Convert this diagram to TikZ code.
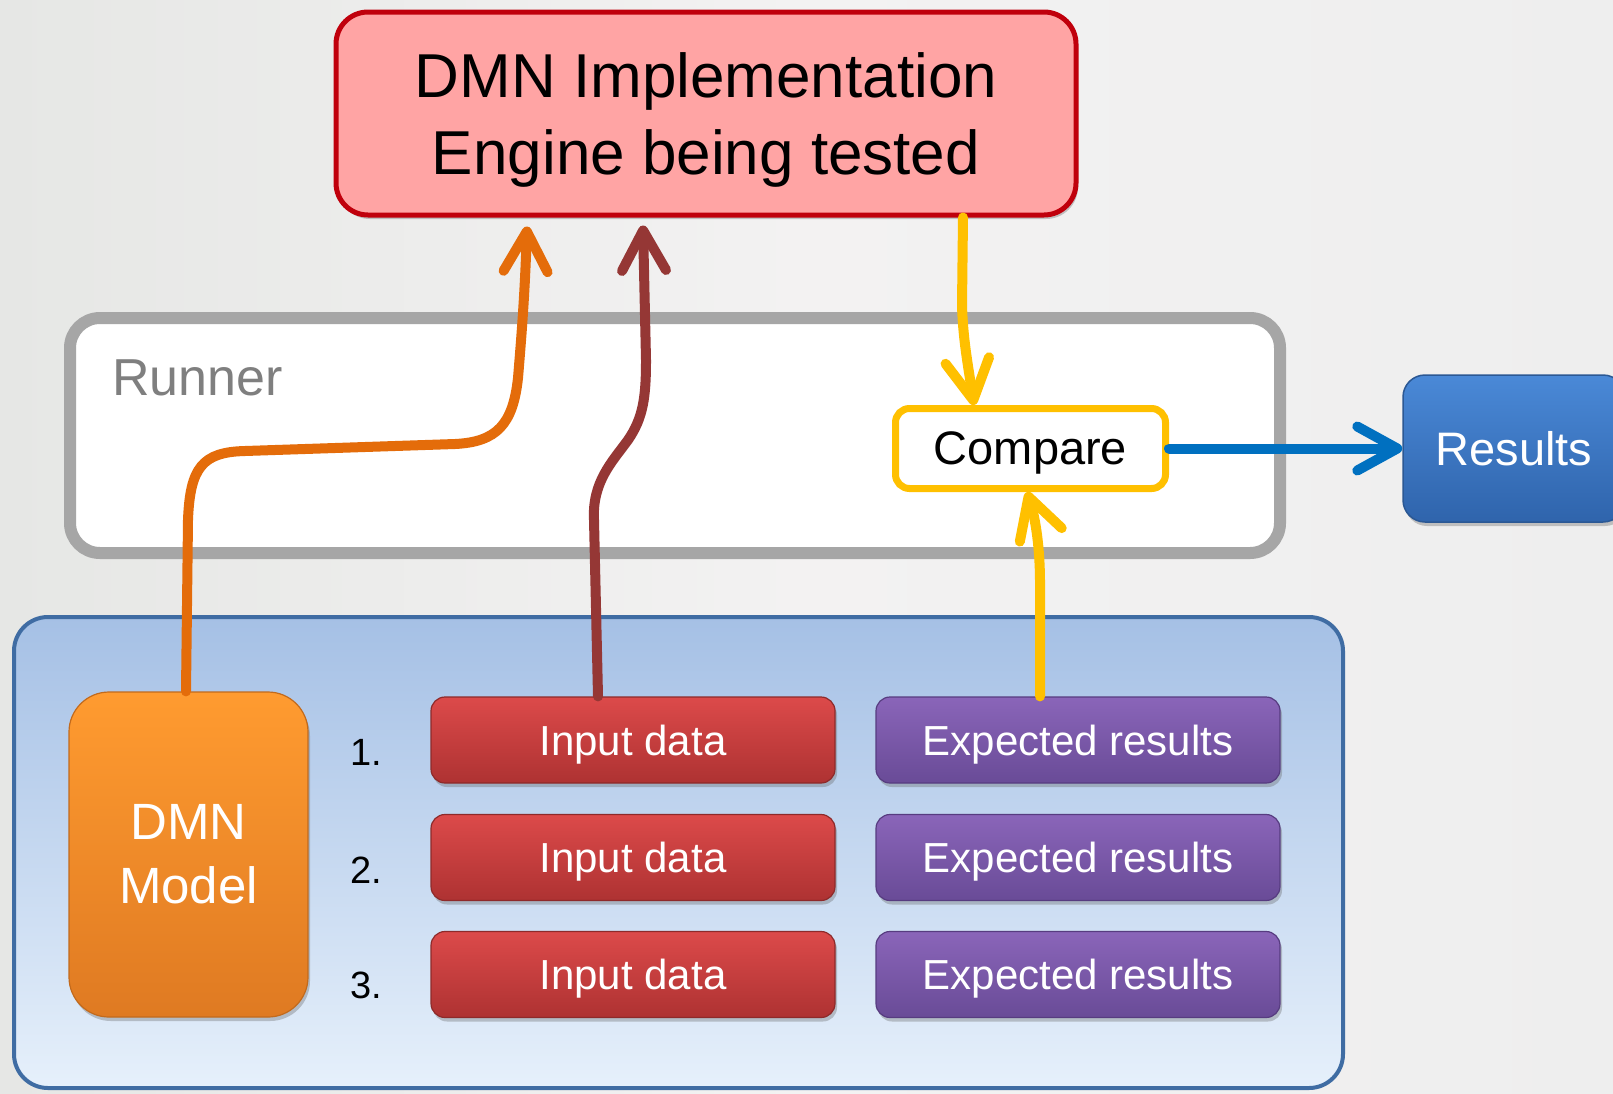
\documentclass[tikz,border=0pt]{standalone}
\usepackage{fontspec}
\setmainfont{Liberation Sans}
\usetikzlibrary{arrows.meta,shadows}
\definecolor{bgA}{HTML}{F3F2F2}
\definecolor{bgB}{HTML}{EEEEEE}
\definecolor{bgC}{HTML}{E6E7E5}
\definecolor{engFill}{HTML}{FFA4A4}
\definecolor{engLine}{HTML}{C0000C}
\definecolor{runLine}{HTML}{A6A6A6}
\definecolor{runText}{HTML}{7F7F7F}
\definecolor{cmpLine}{HTML}{FFC000}
\definecolor{resTop}{HTML}{4A89D7}
\definecolor{resBot}{HTML}{2F64AC}
\definecolor{resLine}{HTML}{2B5894}
\definecolor{panTop}{HTML}{A5C0E5}
\definecolor{panBot}{HTML}{E6F0FB}
\definecolor{panLine}{HTML}{3F6CA3}
\definecolor{modTop}{HTML}{FF9B30}
\definecolor{modBot}{HTML}{DF7A22}
\definecolor{modLine}{HTML}{C26A1C}
\definecolor{inTop}{HTML}{DC4A4A}
\definecolor{inBot}{HTML}{AE3232}
\definecolor{inLine}{HTML}{8E2A2A}
\definecolor{exTop}{HTML}{8A65B9}
\definecolor{exBot}{HTML}{694B97}
\definecolor{exLine}{HTML}{573C80}
\definecolor{arOrange}{HTML}{E46C0A}
\definecolor{arBrown}{HTML}{953735}
\definecolor{arYellow}{HTML}{FFC000}
\definecolor{arBlue}{HTML}{0070C0}
\tikzset{
  box/.style={rectangle, inner sep=0pt, align=center},
  shad/.style={drop shadow={shadow xshift=2pt, shadow yshift=-4pt, opacity=0.35, fill=black!60}},
  rowbox/.style={box, minimum width=404pt, minimum height=86pt, rounded corners=14pt,
     text=white, font=\fontsize{42}{50}\selectfont, line width=1.2pt, shad, text depth=0pt},
  inbox/.style={rowbox, draw=inLine, top color=inTop, bottom color=inBot},
  exbox/.style={rowbox, draw=exLine, top color=exTop, bottom color=exBot},
  numlab/.style={anchor=base, inner sep=0pt, font=\fontsize{38}{44}\selectfont},
  conn/.style={line width=10pt, line cap=round, line join=round,
     -{Straight Barb[length=40pt,width=44pt,round]}}
}
\begin{document}
\begin{tikzpicture}[x=1pt,y=-1pt]
\useasboundingbox (0,0) rectangle (1613,1093);
\clip (0,0) rectangle (1613,1093);
\fill[left color=bgC, right color=bgB, middle color=bgA] (0,0) rectangle (1613,1093);

% runner
\node[box, draw=runLine, fill=white, line width=12pt, rounded corners=30pt,
      minimum width=1210pt, minimum height=235pt] (runner) at (675,435.5) {};
\node[anchor=base west, inner sep=0pt, text=runText, font=\fontsize{52}{60}\selectfont]
      (runlab) at (112,395) {Runner};

% engine
\node[box, draw=engLine, fill=engFill, line width=5pt, rounded corners=32pt,
      minimum width=740pt, minimum height=203pt, shad, text depth=0pt,
      font=\fontsize{62}{77}\selectfont] (engine) at (706,113.5)
      {DMN Implementation\\Engine being tested};

% compare
\node[box, draw=cmpLine, fill=white, line width=7pt, rounded corners=14pt,
      minimum width=270pt, minimum height=80pt, text depth=0pt,
      font=\fontsize{47}{54}\selectfont] (compare) at (1030.5,448.5) {Compare};

% results
\node[box, draw=resLine, line width=1.5pt, top color=resTop, bottom color=resBot,
      rounded corners=22pt, minimum width=222pt, minimum height=147pt, shad,
      text=white, font=\fontsize{47}{54}\selectfont] (results) at (1514,448.5) {Results};

% panel
\node[box, draw=panLine, line width=4pt, top color=panTop, bottom color=panBot,
      rounded corners=34pt, minimum width=1329pt, minimum height=471pt]
      (panel) at (678.5,852.5) {};

% model
\node[box, draw=modLine, line width=1.2pt, top color=modTop, bottom color=modBot,
      rounded corners=40pt, minimum width=239pt, minimum height=325pt, shad,
      text=white, font=\fontsize{51}{64}\selectfont] (model) at (188.5,854.5) {DMN\\Model};

% rows
\node[inbox] (in1) at (633,740) {Input data};
\node[inbox] (in2) at (633,857.5) {Input data};
\node[inbox] (in3) at (633,974.5) {Input data};
\node[exbox] (ex1) at (1078,740) {Expected results};
\node[exbox] (ex2) at (1078,857.5) {Expected results};
\node[exbox] (ex3) at (1078,974.5) {Expected results};
\node[numlab] (n1) at (366,765) {1.};
\node[numlab] (n2) at (366,883) {2.};
\node[numlab] (n3) at (366,998) {3.};

% connectors
\draw[conn, arOrange] ([xshift=-2.5pt]model.north) -- (188,520)
   .. controls (190,468) and (202,452) .. (245,451) -- (455,444)
   .. controls (497,442) and (513,424) .. (518,378)
   .. controls (522,330) and (525,290) .. ([xshift=-179pt,yshift=-9pt]engine.south);
\draw[conn, arBrown] ([xshift=-35pt]in1.north) -- (594,520)
   .. controls (592,482) and (612,462) .. (628,440)
   .. controls (643,418) and (646,398) .. (646,360)
   -- ([xshift=-63pt,yshift=-8pt]engine.south);
\draw[conn, arYellow] ([xshift=257pt]engine.south) -- (962,305)
   .. controls (963,340) and (968,365) .. ([xshift=-56.5pt]compare.north);
\draw[conn, arYellow] ([xshift=-38pt]ex1.north) -- (1040,583)
   .. controls (1040,550) and (1036,520) .. ([xshift=-3.5pt]compare.south);
\draw[conn, arBlue] (compare.east) -- (results.west);
\end{tikzpicture}
\end{document}
